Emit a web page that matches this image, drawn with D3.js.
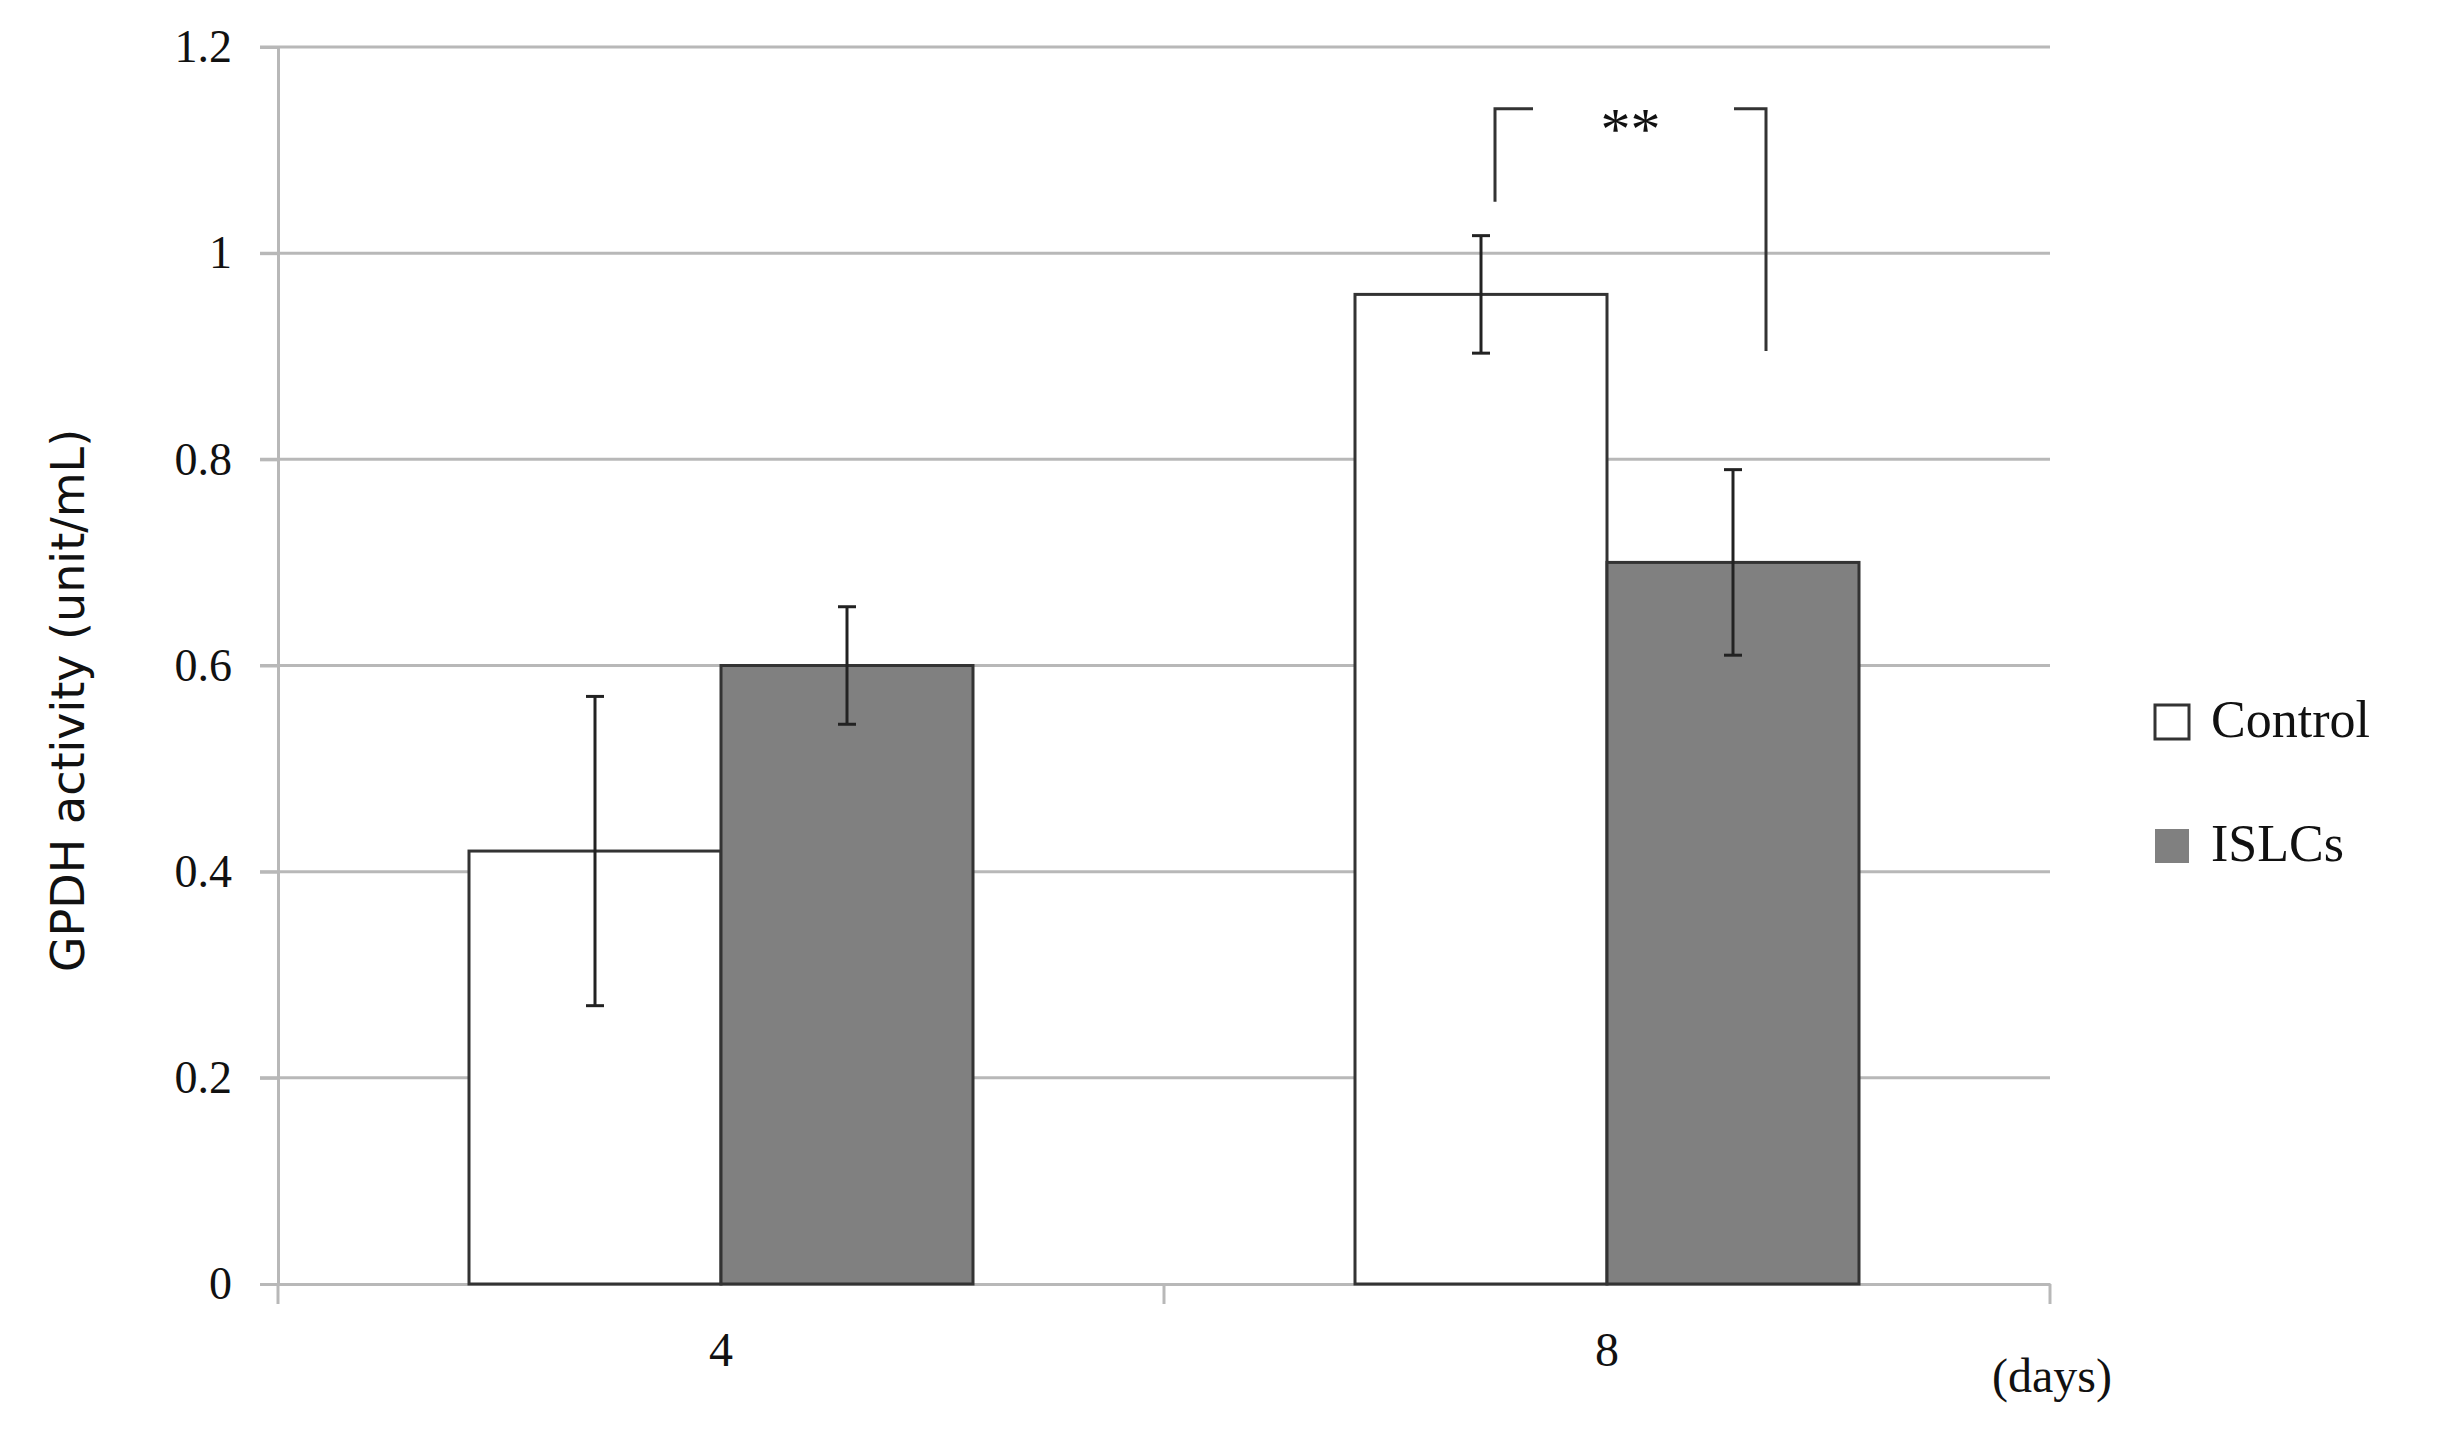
<!DOCTYPE html>
<html>
<head>
<meta charset="utf-8">
<script src="https://cdn.jsdelivr.net/npm/d3@7"></script>
<style>
  body { margin: 0; background: #fff; }
  text { font-family: "Liberation Serif", "DejaVu Serif", serif; fill: #111; }
</style>
</head>
<body>
<svg id="chart" width="2454" height="1439"></svg>
<script>
// Data
let days = ["4", "8"];
let groups = ["Control", "ISLCs"];
let controlValues = [0.42, 0.96];
let controlErrors = [0.15, 0.057];
let islcValues = [0.60, 0.70];
let islcErrors = [0.057, 0.09];
let yTicks = [0, 0.2, 0.4, 0.6, 0.8, 1, 1.2];

let svg = d3.select("#chart");
let plotLeft = 278, plotRight = 2050, plotTop = 47, plotBottom = 1284;

let x0 = d3.scaleBand().domain(days).range([plotLeft, plotRight]).padding(0);
let x1 = d3.scaleBand().domain(groups).range([191, 695]).padding(0);
let y = d3.scaleLinear().domain([0, 1.2]).range([plotBottom, plotTop]);
let colors = { Control: "#ffffff", ISLCs: "#808080" };

// Gridlines
svg.append("g").selectAll("line").data(yTicks.slice(1)).join("line")
  .attr("x1", plotLeft - 18).attr("x2", plotRight)
  .attr("y1", d => y(d)).attr("y2", d => y(d))
  .attr("stroke", "#b8b8b8").attr("stroke-width", 3);

// Y axis
let yAxis = svg.append("g").attr("transform", `translate(${plotLeft},0)`)
  .call(d3.axisLeft(y).tickValues(yTicks).tickSize(18).tickFormat(d => d));
yAxis.select(".domain").attr("stroke", "#b8b8b8").attr("stroke-width", 3);
yAxis.selectAll(".tick line").attr("stroke", "#b8b8b8").attr("stroke-width", 3);
yAxis.selectAll("text").attr("font-size", 46).attr("x", -46)
  .style("font-family", "Liberation Serif, serif").attr("fill", "#111");

// X axis
let xAxis = svg.append("g").attr("transform", `translate(0,${plotBottom})`)
  .call(d3.axisBottom(x0).tickSize(0).tickFormat(""));
xAxis.select(".domain").attr("stroke", "#b8b8b8").attr("stroke-width", 3);
svg.append("g").selectAll("line").data([plotLeft, x0("8"), plotRight]).join("line")
  .attr("x1", d => d).attr("x2", d => d)
  .attr("y1", plotBottom).attr("y2", plotBottom + 20)
  .attr("stroke", "#b8b8b8").attr("stroke-width", 3);

// Bars
let rows = [];
days.forEach((d, i) => {
  rows.push({ day: d, group: "Control", value: controlValues[i], err: controlErrors[i] });
  rows.push({ day: d, group: "ISLCs", value: islcValues[i], err: islcErrors[i] });
});

svg.append("g").selectAll("rect").data(rows).join("rect")
  .attr("x", d => x0(d.day) + x1(d.group))
  .attr("y", d => y(d.value))
  .attr("width", x1.bandwidth())
  .attr("height", d => plotBottom - y(d.value))
  .attr("fill", d => colors[d.group])
  .attr("stroke", "#333").attr("stroke-width", 3);

// Error bars
let eb = svg.append("g").attr("stroke", "#222").attr("stroke-width", 3);
rows.forEach(d => {
  let cx = x0(d.day) + x1(d.group) + x1.bandwidth() / 2;
  eb.append("line").attr("x1", cx).attr("x2", cx)
    .attr("y1", y(d.value - d.err)).attr("y2", y(d.value + d.err));
  [d.value - d.err, d.value + d.err].forEach(v => {
    eb.append("line").attr("x1", cx - 9).attr("x2", cx + 9)
      .attr("y1", y(v)).attr("y2", y(v));
  });
});

// Significance bracket
let bl = x0("8") + x1("Control") + x1.bandwidth() / 2 + 14;
let br = x0("8") + x1("ISLCs") + x1.bandwidth() / 2 + 33;
let bTop = y(1.14);
let bracket = svg.append("g").attr("stroke", "#333").attr("stroke-width", 3).attr("fill", "none");
bracket.append("path").attr("d", `M${bl},${y(1.05)}V${bTop}H${bl + 38}`);
bracket.append("path").attr("d", `M${br - 32},${bTop}H${br}V${y(0.905)}`);
svg.append("text").attr("x", (bl + br) / 2).attr("y", bTop + 40)
  .attr("text-anchor", "middle").attr("font-size", 60).text("**");

// Category labels
svg.append("g").selectAll("text").data(days).join("text")
  .attr("x", d => x0(d) + x1("Control") + x1.bandwidth())
  .attr("y", 1366).attr("text-anchor", "middle").attr("font-size", 48)
  .text(d => d);
svg.append("text").attr("x", 2052).attr("y", 1392).attr("text-anchor", "middle")
  .attr("font-size", 48).text("(days)");

// Y label
svg.append("text")
  .attr("transform", `translate(84,${(plotTop + plotBottom) / 2 + 35}) rotate(-90)`)
  .attr("text-anchor", "middle").attr("font-size", 46)
  .style("font-family", "DejaVu Sans, sans-serif")
  .text("GPDH activity (unit/mL)");

// Legend
let legend = svg.append("g").selectAll("g").data(groups).join("g")
  .attr("transform", (d, i) => `translate(2155,${705 + i * 124})`);
legend.append("rect").attr("width", 34).attr("height", 34)
  .attr("fill", d => colors[d]).attr("stroke", d => d === "Control" ? "#333" : "none")
  .attr("stroke-width", 3);
legend.append("text").attr("x", 56).attr("y", 32).attr("font-size", 52)
  .text(d => d);
</script>
</body>
</html>
